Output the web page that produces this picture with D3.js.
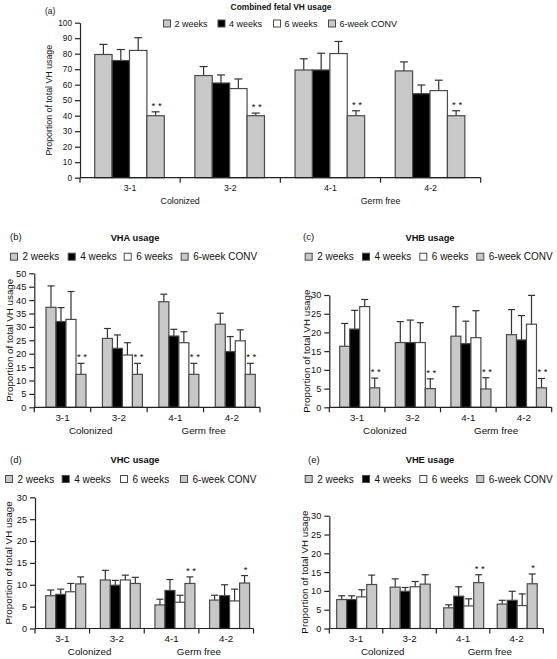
<!DOCTYPE html>
<html>
<head>
<meta charset="utf-8">
<script src="https://cdn.jsdelivr.net/npm/d3@7"></script>
<style>
  html, body { margin: 0; padding: 0; background: #fff; }
  svg { display: block; font-family: "Liberation Sans", Arial, Helvetica, sans-serif; }
</style>
</head>
<body>
<svg id="chart" width="557" height="659"></svg>
<script>
// ---------------- DATA ----------------
const groups = ["3-1", "3-2", "4-1", "4-2"];
const categories = ["Colonized", "Germ free"];
const seriesNames = ["2 weeks", "4 weeks", "6 weeks", "6-week CONV"];

// each row = one group (3-1, 3-2, 4-1, 4-2); columns = series order above
const combinedMeans = [[79.5, 75.6, 82.1, 40.0], [65.9, 61.1, 57.5, 40.0], [69.5, 69.5, 80.1, 40.0], [68.9, 54.2, 56.2, 40.0]];
const combinedErrTop = [[86.0, 82.7, 90.3, 42.5], [71.7, 66.3, 63.7, 41.7], [76.7, 80.3, 87.9, 43.2], [74.7, 59.8, 62.9, 43.2]];
const combinedStars = ["**", "**", "**", "**"];

const vhaMeans = [[37.3, 32.0, 32.8, 12.3], [25.7, 22.0, 19.5, 12.3], [39.4, 26.6, 24.1, 12.3], [31.0, 20.8, 24.8, 12.3]];
const vhaErrTop = [[45.3, 37.2, 43.2, 16.4], [29.4, 27.0, 24.1, 16.4], [42.2, 29.1, 28.2, 16.4], [35.1, 26.4, 28.9, 16.4]];
const vhaStars = ["**", "**", "**", "**"];

const vhbMeans = [[16.3, 20.9, 26.9, 5.2], [17.3, 17.3, 17.3, 5.0], [19.0, 17.0, 18.6, 4.9], [19.4, 18.0, 22.2, 5.2]];
const vhbErrTop = [[22.4, 25.9, 28.8, 7.8], [22.9, 23.3, 22.6, 7.6], [26.9, 23.0, 25.8, 7.9], [26.1, 24.5, 29.9, 7.7]];
const vhbStars = ["**", "**", "**", "**"];

const vhcMeans = [[7.5, 7.8, 8.4, 10.2], [11.1, 9.9, 11.1, 10.3], [5.4, 8.7, 6.0, 10.3], [6.5, 7.5, 6.3, 10.4]];
const vhcErrTop = [[8.8, 9.0, 10.3, 11.8], [13.3, 11.0, 12.2, 11.7], [6.7, 11.2, 7.6, 11.8], [7.6, 10.0, 9.0, 12.1]];
const vhcStars = ["", "", "**", "*"];

const vheMeans = [[7.7, 7.7, 8.4, 11.7], [11.0, 9.9, 11.1, 11.8], [5.5, 8.6, 6.0, 12.2], [6.5, 7.5, 6.1, 11.9]];
const vheErrTop = [[8.7, 8.7, 10.3, 14.2], [13.2, 10.9, 12.5, 14.3], [6.3, 11.1, 7.9, 14.3], [7.5, 9.9, 9.2, 14.5]];
const vheStars = ["", "", "**", "*"];

const yTicksCombined = d3.range(0, 101, 10);
const yTicksVHA = d3.range(0, 51, 5);
const yTicksSmall = d3.range(0, 31, 5);

const yLabel = "Proportion of total VH usage";

// ---------------- STYLE ----------------
const fills = ["#c8c8c8", "#000000", "#ffffff", "#c8c8c8"];
const barStroke = "#4a4a4a";
const axisColor = "#222";

// ---------------- LAYOUT ----------------
const panels = [
  { tag: "(a)", title: "Combined fetal VH usage", means: combinedMeans, err: combinedErrTop, stars: combinedStars, ticks: yTicksCombined,
    tagX: 45, tagY: 13.5, titleX: 281, titleY: 10, legX: [163, 217.5, 273, 328], legY: 19.5, legDx: 11.5, fs: 0.9,
    x0: 80, x1: 480.7, y0: 177.7, yTop: 22.7, barW: 17.4, barOff: 14.7, cap: 8, yLabX: 48.5 },
  { tag: "(b)", title: "VHA usage", means: vhaMeans, err: vhaErrTop, stars: vhaStars, ticks: yTicksVHA,
    tagX: 10, tagY: 240, titleX: 135, titleY: 241, legX: [10, 67.7, 123.7, 180.7], legY: 252.7, legDx: 12.5, fs: 1,
    x0: 34.3, x1: 260, y0: 407.3, yTop: 273.3, barW: 10, barOff: 11.7, cap: 7, yLabX: 9 },
  { tag: "(c)", title: "VHB usage", means: vhbMeans, err: vhbErrTop, stars: vhbStars, ticks: yTicksSmall,
    tagX: 303, tagY: 240, titleX: 430, titleY: 241, legX: [304.7, 362, 419.3, 476.3], legY: 252.7, legDx: 12.5, fs: 1,
    x0: 329.3, x1: 551.7, y0: 407.3, yTop: 295, barW: 10, barOff: 10.4, cap: 7, yLabX: 306 },
  { tag: "(d)", title: "VHC usage", means: vhcMeans, err: vhcErrTop, stars: vhcStars, ticks: yTicksSmall,
    tagX: 10, tagY: 463, titleX: 135, titleY: 463, legX: [5, 61.7, 120, 180], legY: 475, legDx: 12.5, fs: 1,
    x0: 35, x1: 253.5, y0: 628.5, yTop: 497.3, barW: 10, barOff: 10.7, cap: 7, yLabX: 8 },
  { tag: "(e)", title: "VHE usage", means: vheMeans, err: vheErrTop, stars: vheStars, ticks: yTicksSmall,
    tagX: 308, tagY: 463, titleX: 430, titleY: 463, legX: [304.7, 362, 419.3, 476.3], legY: 475, legDx: 12.5, fs: 1,
    x0: 329.3, x1: 543.3, y0: 628.5, yTop: 515.7, barW: 10, barOff: 7.4, cap: 7, yLabX: 304.5 }
];

const svg = d3.select("#chart");

panels.forEach(p => {
  const g = svg.append("g");
  const f = p.fs;
  const yMax = p.ticks[p.ticks.length - 1];
  const y = d3.scaleLinear().domain([0, yMax]).range([p.y0, p.yTop]);
  const xG = d3.scaleBand().domain(groups).range([p.x0, p.x1]).paddingInner(0).paddingOuter(0);
  const xS = d3.scaleBand().domain(seriesNames).range([p.barOff, p.barOff + p.barW * 4]).padding(0);

  // tag & title
  g.append("text").attr("x", p.tagX).attr("y", p.tagY).attr("font-size", 9.5 * f).attr("fill", "#111").text(p.tag);
  g.append("text").attr("x", p.titleX).attr("y", p.titleY).attr("text-anchor", "middle")
    .attr("font-size", 9.3 * f).attr("font-weight", "bold").attr("fill", "#111").text(p.title);

  // legend
  const leg = g.append("g");
  seriesNames.forEach((s, i) => {
    leg.append("rect").attr("x", p.legX[i] + 0.5).attr("y", p.legY + 0.5).attr("width", 7).attr("height", 7)
      .attr("fill", fills[i]).attr("stroke", barStroke).attr("stroke-width", 1);
    leg.append("text").attr("x", p.legX[i] + p.legDx).attr("y", p.legY + 7.5)
      .attr("font-size", 10 * f).attr("fill", "#111").text(s);
  });

  // bars
  groups.forEach((grp, gi) => {
    seriesNames.forEach((s, si) => {
      const v = p.means[gi][si];
      const e = p.err[gi][si];
      const bx = xG(grp) + xS(s);
      const cx = bx + p.barW / 2;
      // error bar (upward only)
      g.append("line").attr("x1", cx).attr("x2", cx).attr("y1", y(v)).attr("y2", y(e))
        .attr("stroke", "#333").attr("stroke-width", 1.2);
      g.append("line").attr("x1", cx - p.cap / 2).attr("x2", cx + p.cap / 2).attr("y1", y(e)).attr("y2", y(e))
        .attr("stroke", "#333").attr("stroke-width", 1.2);
      g.append("rect").attr("x", bx).attr("y", y(v)).attr("width", p.barW).attr("height", y(0) - y(v))
        .attr("fill", fills[si]).attr("stroke", barStroke).attr("stroke-width", 1.2);
      if (si === 3 && p.stars[gi]) {
        g.append("text").attr("x", cx + 1).attr("y", y(e) - 3).attr("text-anchor", "middle")
          .attr("font-size", 9.5).attr("fill", "#111")
          .text(p.stars[gi].split("").join(" "));
      }
    });
  });

  // y axis
  const yAxis = d3.axisLeft(y).tickValues(p.ticks).tickSize(5).tickSizeOuter(0).tickPadding(3);
  const ya = g.append("g").attr("transform", `translate(${p.x0},0)`).call(yAxis);
  ya.selectAll("path,line").attr("stroke", axisColor).attr("stroke-width", 1.2);
  ya.selectAll("text").attr("font-size", 9.2 * f).attr("fill", "#111").attr("font-family", "Liberation Sans, Arial, sans-serif");

  // x axis: baseline with boundary ticks, labels at group centres
  const bounds = groups.map(d => xG(d)).concat([p.x1]);
  g.append("line").attr("x1", p.x0).attr("x2", p.x1).attr("y1", p.y0).attr("y2", p.y0)
    .attr("stroke", axisColor).attr("stroke-width", 1.2);
  bounds.forEach(bx => {
    g.append("line").attr("x1", bx).attr("x2", bx).attr("y1", p.y0).attr("y2", p.y0 + 5)
      .attr("stroke", axisColor).attr("stroke-width", 1.2);
  });
  groups.forEach(grp => {
    g.append("text").attr("x", xG(grp) + xG.bandwidth() / 2).attr("y", p.y0 + 13.5)
      .attr("text-anchor", "middle").attr("font-size", 9.8 * f).attr("fill", "#111").text(grp);
  });
  categories.forEach((c, ci) => {
    g.append("text").attr("x", xG(groups[ci * 2 + 1])).attr("y", p.y0 + 26.5)
      .attr("text-anchor", "middle").attr("font-size", 9.8 * f).attr("fill", "#111").text(c);
  });

  // y label
  const ym = (p.y0 + p.yTop) / 2;
  g.append("text").attr("transform", `translate(${p.yLabX},${ym}) rotate(-90)`)
    .attr("text-anchor", "middle").attr("dominant-baseline", "central")
    .attr("font-size", 9.8 * f).attr("fill", "#111").text(yLabel);
});
</script>
</body>
</html>
